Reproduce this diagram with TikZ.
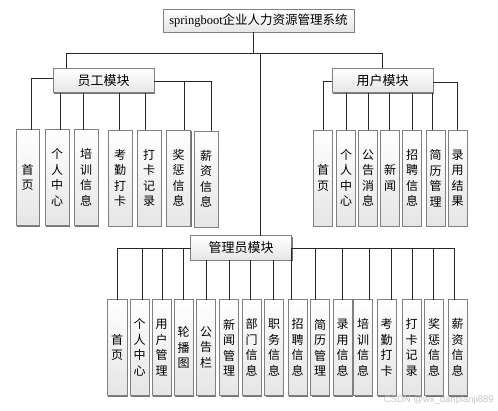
\documentclass[tikz,border=0pt]{standalone}
\usepackage{fontspec}
\setmainfont{Liberation Serif}
\newfontfamily\cjk{Noto Sans CJK SC}
\newfontfamily\wmfont{Liberation Sans}
\usetikzlibrary{shadows}
\tikzset{
  boxbase/.style={draw=black!50, line width=0.9pt, top color=white, bottom color=black!10,
    drop shadow={shadow xshift=1pt, shadow yshift=-1pt, fill=black!55, opacity=1},
    inner sep=0pt, outer sep=0pt, align=center},
  titlebox/.style={boxbase, minimum width=191pt, minimum height=23pt},
  modbox/.style={boxbase, minimum width=101pt, minimum height=24.5pt, font=\cjk\fontsize{13}{15}\selectfont},
  leaf/.style={boxbase, anchor=north, minimum height=96pt, font=\cjk\fontsize{12}{15.5}\selectfont},
  conn/.style={draw=black!85, line width=0.8pt},
}
\newcommand{\leafnode}[5]{\node[leaf, minimum width=#4pt] (#1) at (#2,#3) {#5};}
\begin{document}
\begin{tikzpicture}[x=1pt,y=-1pt]
\useasboundingbox[fill=white] (0,0) rectangle (498,410);

% title and modules
\node[titlebox] (main) at (258.5,20.5) {{\fontsize{12.5}{15}\selectfont springboot}{\cjk\fontsize{12.5}{15}\selectfont 企业人力资源管理系统}};
\node[modbox] (emp) at (103.5,80.5) {员工模块};
\node[modbox] (user) at (382.5,80.5) {用户模块};
\node[modbox] (admin) at (241,248) {管理员模块};

% employee leaves
\leafnode{e1}{27.5}{129.5}{23}{首\\页}
\leafnode{e2}{57}{129.5}{24}{个\\人\\中\\心}
\leafnode{e3}{86}{129.5}{24}{培\\训\\信\\息}
\leafnode{e4}{120}{130}{24}{考\\勤\\打\\卡}
\leafnode{e5}{149}{130}{24}{打\\卡\\记\\录}
\leafnode{e6}{178.5}{130}{24}{奖\\惩\\信\\息}
\leafnode{e7}{206}{131}{24}{薪\\资\\信\\息}

% user leaves
\leafnode{u1}{323}{130}{18.5}{首\\页}
\leafnode{u2}{346}{130}{18.5}{个\\人\\中\\心}
\leafnode{u3}{368}{130}{18.5}{公\\告\\消\\息}
\leafnode{u4}{390}{130}{18.5}{新\\闻}
\leafnode{u5}{412}{130}{18.5}{招\\聘\\信\\息}
\leafnode{u6}{435.5}{130}{19}{简\\历\\管\\理}
\leafnode{u7}{457.5}{130}{19}{录\\用\\结\\果}

% admin leaves
\leafnode{a1}{117}{299.5}{20}{首\\页}
\leafnode{a2}{139.5}{299.5}{19}{个\\人\\中\\心}
\leafnode{a3}{161.5}{299.5}{19}{用\\户\\管\\理}
\leafnode{a4}{183.5}{299.5}{19}{轮\\播\\图}
\leafnode{a5}{206}{299.5}{18.5}{公\\告\\栏}
\leafnode{a6}{229}{299.5}{18.5}{新\\闻\\管\\理}
\leafnode{a7}{251.5}{299.5}{19}{部\\门\\信\\息}
\leafnode{a8}{274}{299.5}{18.5}{职\\务\\信\\息}
\leafnode{a9}{297.5}{299.5}{19}{招\\聘\\信\\息}
\leafnode{a10}{320}{299.5}{18.5}{简\\历\\管\\理}
\leafnode{a11}{342.5}{299.5}{19}{录\\用\\信\\息}
\leafnode{a12}{363}{299.5}{18.5}{培\\训\\信\\息}
\leafnode{a13}{386.5}{299.5}{19}{考\\勤\\打\\卡}
\leafnode{a14}{411.5}{299.5}{19}{打\\卡\\记\\录}
\leafnode{a15}{434}{299.5}{18.5}{奖\\惩\\信\\息}
\leafnode{a16}{457.5}{299.5}{19}{薪\\资\\信\\息}

% top level connectors
\draw[conn] (main.south -| 253,0) -- (253,53);
\draw[conn] (emp.north -| 66,0) -- (66,53) -- (382,53) -- (user.north -| 382,0);
\draw[conn] (260,53) -- (admin.north -| 260,0);

% employee connectors
\draw[conn] (emp.west |- 0,78) -| (e1.north -| 31,0);
\draw[conn] (emp.south -| 60,0) -- (e2.north -| 60,0);
\draw[conn] (emp.south -| 83,0) -- (e3.north -| 83,0);
\draw[conn] (emp.south -| 119,0) -- (e4.north -| 119,0);
\draw[conn] (emp.south -| 145,0) -- (e5.north -| 145,0);
\draw[conn] (emp.east |- 0,81) -| (e7.north -| 211,0);
\draw[conn] (184,81) -- (e6.north -| 184,0);

% user connectors
\draw[conn] (user.west |- 0,81) -| (u1.north -| 323,0);
\draw[conn] (user.south -| 346,0) -- (u2.north -| 346,0);
\draw[conn] (user.south -| 368,0) -- (u3.north -| 368,0);
\draw[conn] (user.south -| 389,0) -- (u4.north -| 389,0);
\draw[conn] (user.south -| 412,0) -- (u5.north -| 412,0);
\draw[conn] (user.south -| 432,0) -- (u6.north -| 432,0);
\draw[conn] (user.east |- 0,82) -| (u7.north -| 457,0);

% admin connectors
\draw[conn] (admin.west |- 0,248) -| (a1.north -| 117,0);
\draw[conn] (142,248) -- (a2.north -| 142,0);
\draw[conn] (162,248) -- (a3.north -| 162,0);
\draw[conn] (183,248) -- (a4.north -| 183,0);
\draw[conn] (admin.south -| 206,0) -- (a5.north -| 206,0);
\draw[conn] (admin.south -| 229,0) -- (a6.north -| 229,0);
\draw[conn] (admin.south -| 250,0) -- (a7.north -| 250,0);
\draw[conn] (admin.south -| 273,0) -- (a8.north -| 273,0);
\draw[conn] (admin.east |- 0,248) -| (a16.north -| 454,0);
\draw[conn] (291,248) -- (a9.north -| 291,0);
\draw[conn] (315,248) -- (a10.north -| 315,0);
\draw[conn] (342,248) -- (a11.north -| 342,0);
\draw[conn] (369,248) -- (a12.north -| 369,0);
\draw[conn] (391,248) -- (a13.north -| 391,0);
\draw[conn] (412,248) -- (a14.north -| 412,0);
\draw[conn] (433,248) -- (a15.north -| 433,0);

% watermark
\node[anchor=east, text=black!22, font=\wmfont\fontsize{9.5}{11}\selectfont, inner sep=0pt] (wm) at (494,400) {CSDN @wx\_danpianji889};
\end{tikzpicture}
\end{document}
